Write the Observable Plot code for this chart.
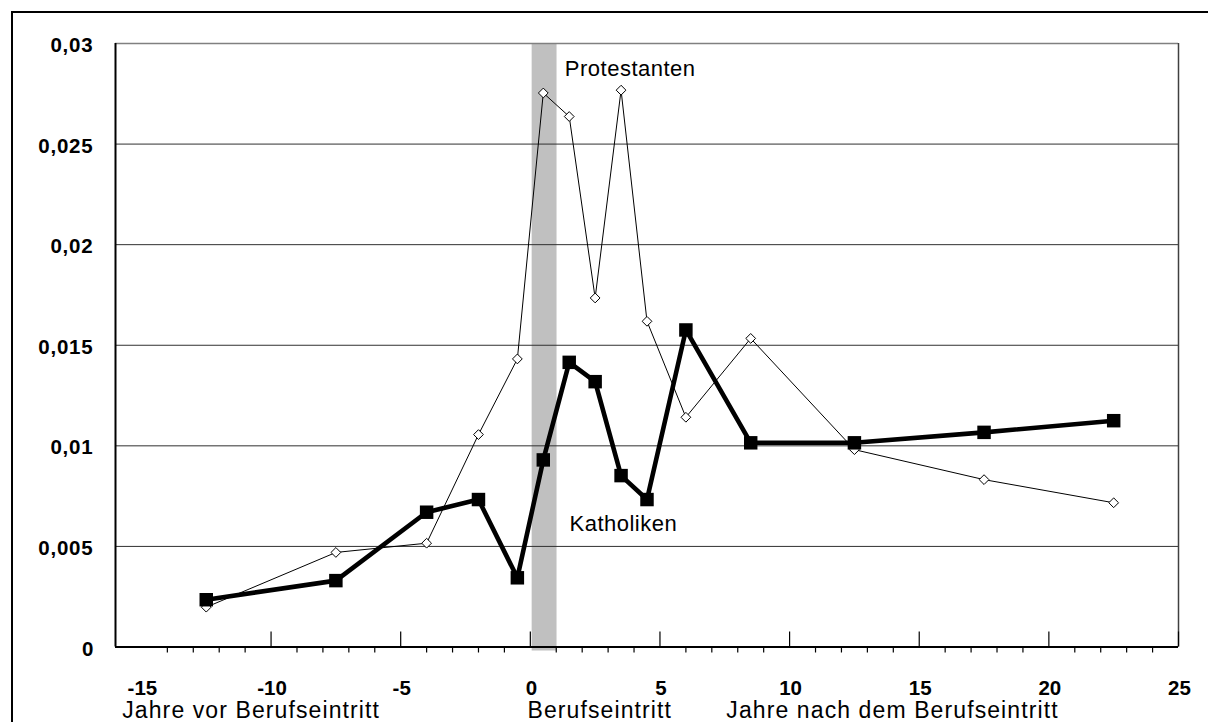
<!DOCTYPE html>
<html><head><meta charset="utf-8">
<script src="https://cdn.jsdelivr.net/npm/d3@7"></script>
<script src="https://cdn.jsdelivr.net/npm/@observablehq/plot@0.6"></script>
<style>
html,body{margin:0;padding:0;background:#fff;}
#wrap{position:relative;width:1208px;height:722px;overflow:hidden;background:#fff;}
#wrap svg{position:absolute;left:0;top:0;}
#frame{position:absolute;left:11px;top:11px;width:1400px;height:900px;border:2px solid #000;pointer-events:none;}
</style></head><body>
<div id="wrap"><div id="frame"></div></div>
<script>
// Years relative to entering the profession
const years = [-12.5, -7.5, -4, -2, -0.5, 0.5, 1.5, 2.5, 3.5, 4.5, 6, 8.5, 12.5, 17.5, 22.5];
const katholiken = [0.00235, 0.00330, 0.00670, 0.00733, 0.00344, 0.00930, 0.01415, 0.01319, 0.00852, 0.00733, 0.01576, 0.01015, 0.01015, 0.01067, 0.01125];
const protestanten = [0.00198, 0.00470, 0.00516, 0.01056, 0.01432, 0.02754, 0.02637, 0.01735, 0.02768, 0.01619, 0.01142, 0.01534, 0.00981, 0.00832, 0.00717];

const xDomain = [-16, 25];
const yDomain = [0, 0.03];
const yTicks = [0, 0.005, 0.01, 0.015, 0.02, 0.025, 0.03];
const gridValues = [0.005, 0.01, 0.015, 0.02, 0.025];
const xLabels = [-15, -10, -5, 0, 5, 10, 15, 20, 25];
const majorTicks = [-10, -5, 0, 5, 10, 15, 20, 25];
const minorTicks = [-14, -13, -12, -11, -9, -8, -7, -6, -4, -3, -2, -1, 1, 2, 3, 4, 6, 7, 8, 9, 11, 12, 13, 14, 16, 17, 18, 19, 21, 22, 23, 24];
const entryBand = [0.07, 1.03];
const seriesLabels = [
  {name: "Protestanten", x: 1.33, y: 0.0284},
  {name: "Katholiken", x: 1.51, y: 0.00579}
];
const axisTitles = [
  {text: "Jahre vor Berufseintritt", x: -15.74},
  {text: "Berufseintritt", x: -0.11},
  {text: "Jahre nach dem Berufseintritt", x: 7.56}
];

const kData = years.map((x, i) => ({x, y: katholiken[i]}));
const pData = years.map((x, i) => ({x, y: protestanten[i]}));

const W = 1208, H = 722, mT = 43, mB = 75.5, mL = 115, mR = 30;
const innerH = H - mT - mB;

const chart = Plot.plot({
  width: W, height: H,
  marginLeft: mL, marginRight: mR, marginTop: mT, marginBottom: mB,
  style: {fontFamily: "'Liberation Sans', Arial, sans-serif", background: "transparent", color: "#000", overflow: "visible"},
  x: {domain: xDomain, axis: null},
  y: {domain: yDomain, axis: null},
  marks: [
    Plot.rect([entryBand], {x1: d => d[0], x2: d => d[1], fill: "#c0c0c0", insetBottom: -4}),
    Plot.ruleY(gridValues, {stroke: "#303030", strokeWidth: 1}),
    Plot.ruleY([yDomain[1]], {stroke: "#808080", strokeWidth: 1.5}),
    Plot.ruleX([xDomain[1]], {stroke: "#404040", strokeWidth: 1.5}),
    Plot.tickX(majorTicks, {x: d => d, insetTop: innerH - 15, stroke: "#000", strokeWidth: 1.2}),
    Plot.tickX(minorTicks, {x: d => d, insetTop: innerH, insetBottom: -6, stroke: "#000", strokeWidth: 1.2}),
    Plot.ruleY([0], {stroke: "#000", strokeWidth: 2}),
    Plot.ruleX([xDomain[0]], {stroke: "#000", strokeWidth: 2}),
    Plot.axisX(xLabels, {label: null, tickSize: 0, tickPadding: 33, tickFormat: d => String(d), fontSize: 20.5, fontWeight: "bold", dx: 1}),
    Plot.axisY(yTicks, {label: null, tickSize: 0, tickPadding: 22, tickFormat: d => String(d).replace(".", ","), fontSize: 20.5, fontWeight: "bold", dy: 2}),
    Plot.line(pData, {x: "x", y: "y", stroke: "#000", strokeWidth: 1}),
    Plot.dot(pData, {x: "x", y: "y", symbol: "diamond2", r: 4.4, fill: "#fff", stroke: "#000", strokeWidth: 1}),
    Plot.line(kData, {x: "x", y: "y", stroke: "#000", strokeWidth: 4.6}),
    Plot.dot(kData, {x: "x", y: "y", symbol: "square", r: 7.6, fill: "#000"}),
    Plot.text(seriesLabels, {x: "x", y: "y", text: "name", textAnchor: "start", lineAnchor: "bottom", fontSize: 22, fill: "#000"}),
    Plot.text(axisTitles, {x: "x", text: "text", frameAnchor: "bottom", textAnchor: "start", lineAnchor: "bottom", dy: 70.5, fontSize: 23, fill: "#000"})
  ]
});

d3.select(chart).selectAll("text").each(function () {
  const t = this.textContent;
  if (axisTitles.some(a => a.text === t)) this.setAttribute("letter-spacing", "1.1");
  else if (seriesLabels.some(s => s.name === t)) this.setAttribute("letter-spacing", "0.5");
  else if (t.includes(",")) this.setAttribute("letter-spacing", "0.8");
});

document.getElementById("wrap").appendChild(chart);
</script>
</body></html>
